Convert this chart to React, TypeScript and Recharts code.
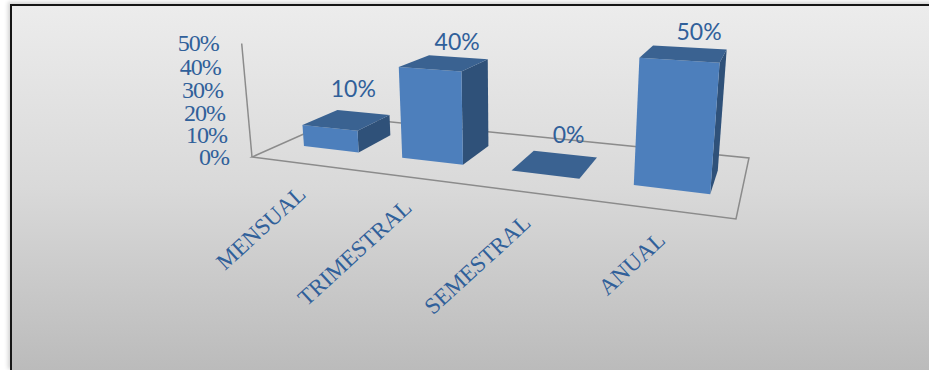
import { BarChart, Bar, XAxis, YAxis, LabelList, Customized } from 'recharts';

const categories = ['MENSUAL', 'TRIMESTRAL', 'SEMESTRAL', 'ANUAL'];
const shares = [10, 40, 0, 50];
const shareTicks = [0, 10, 20, 30, 40, 50];
const SHARE_MAX = 50;

const chartData = categories.map((name, i) => ({ name, value: shares[i] }));

const CHART_W = 929;
const CHART_H = 370;
const AXIS_W = 40;
const AXIS_H = 40;
const PLOT_W = CHART_W - AXIS_W;
const PLOT_H = CHART_H - AXIS_H;

const SERIF = '"Liberation Serif", serif';
const SANS = 'Lato, sans-serif';
const TEXT_BLUE = '#30609a';
const EDGE_GREY = '#8b8b8b';

// bars sit in the middle of the floor, front to back
const DEPTH_FRONT = 0.3;
const DEPTH_BACK = 0.7;

// per-bar nudge for the value labels, px
const labelNudgeX = [-1, 3, 1, 0];
const labelNudgeY = [-3, 2, 0, 0];

// perspective used for the fake 3D: floor homography plus a vertical vanishing point
const FLOOR = { a: 327.6, b: 157, c: 252, d: 15.46, e: -17.07, f: 157, g: -0.2125, h: 0.196 };
const VANISH = { x: 510, y: 3000, k: -0.0384 };

// u: 0..1 along the category axis, v: 0..1 into the floor, t: 0..1 up the value axis
function project(u: number, v: number, t: number) {
  const w = FLOOR.g * u + FLOOR.h * v + 1 + t * VANISH.k;
  const x = FLOOR.a * u + FLOOR.b * v + FLOOR.c + t * VANISH.k * VANISH.x;
  const y = FLOOR.d * u + FLOOR.e * v + FLOOR.f + t * VANISH.k * VANISH.y;
  return { x: x / w, y: y / w };
}

const toU = (x: number) => (x - AXIS_W) / PLOT_W;
const toT = (y: number) => (PLOT_H - y) / PLOT_H;

function points(corners: Array<[number, number, number]>) {
  return corners
    .map(([u, v, t]) => {
      const p = project(u, v, t);
      return `${p.x},${p.y}`;
    })
    .join(' ');
}

function Box3D(props: any) {
  const { x, y, width } = props;
  const u0 = toU(x);
  const u1 = toU(x + width);
  const t = toT(y);
  const f = DEPTH_FRONT;
  const b = DEPTH_BACK;
  return (
    <g>
      <polygon fill="#2f5179" points={points([[u1, f, 0], [u1, b, 0], [u1, b, t], [u1, f, t]])} />
      <polygon fill="#4d7fbc" points={points([[u0, f, 0], [u1, f, 0], [u1, f, t], [u0, f, t]])} />
      <polygon fill="#3a6291" points={points([[u0, f, t], [u1, f, t], [u1, b, t], [u0, b, t]])} />
    </g>
  );
}

function Floor() {
  const wallTop = project(0, 0, 1);
  const origin = project(0, 0, 0);
  return (
    <g fill="none" stroke={EDGE_GREY} strokeWidth={1.5}>
      <polygon points={points([[0, 0, 0], [1, 0, 0], [1, 1, 0], [0, 1, 0]])} />
      <line x1={origin.x} y1={origin.y} x2={wallTop.x} y2={wallTop.y} />
    </g>
  );
}

function ShareTick({ payload }: any) {
  const p = project(0, 0, payload.value / SHARE_MAX);
  return (
    <text x={p.x - 23} y={p.y} textAnchor="end" dominantBaseline="central" fontFamily={SERIF} fontSize={24} letterSpacing={-1} fill={TEXT_BLUE}>
      {payload.value}%
    </text>
  );
}

function CategoryTick({ x, payload }: any) {
  const p = project(toU(x), 0, 0);
  const tx = p.x + 4.5;
  const ty = p.y + 32.5;
  return (
    <text x={tx} y={ty} textAnchor="end" transform={`rotate(-42.5 ${tx} ${ty})`} fontFamily={SERIF} fontSize={23} fill={TEXT_BLUE}>
      {payload.value}
    </text>
  );
}

function ValueLabel(props: any) {
  const box = props.viewBox ?? props;
  const i = props.index ?? 0;
  const u = toU(box.x + box.width / 2);
  const t = toT(box.y);
  const p = project(u, 0.5, t);
  return (
    <text
      x={p.x + 6 + 10 * u + labelNudgeX[i]}
      y={p.y - 30 + 7 * t + labelNudgeY[i]}
      textAnchor="middle"
      dominantBaseline="central"
      fontFamily={SANS}
      fontSize={23}
      fill={TEXT_BLUE}
    >
      {props.value}%
    </text>
  );
}

export default function App() {
  return (
    <div style={{ position: 'absolute', left: 0, top: 0, width: CHART_W, height: CHART_H, overflow: 'hidden', background: '#fff' }}>
      <div
        style={{
          position: 'absolute',
          left: 10,
          top: 4,
          width: 930,
          height: 364,
          borderTop: '2px solid #161616',
          borderLeft: '2px solid #161616',
          borderBottom: '1px solid #161616',
          boxShadow: '-2px -2px 4px rgba(0,0,0,0.18)',
          background: 'linear-gradient(#ececec 0%, #d9d9d9 50%, #bbbbbb 100%)',
        }}
      />
      <div style={{ position: 'absolute', left: 0, top: 0 }}>
        <BarChart width={CHART_W} height={CHART_H} data={chartData} margin={{ top: 0, right: 0, bottom: 0, left: 0 }} barCategoryGap="21.5%">
          <Customized component={Floor} />
          <XAxis dataKey="name" height={AXIS_H} axisLine={false} tickLine={false} interval={0} padding={{ left: 4, right: 0 }} tick={CategoryTick} />
          <YAxis width={AXIS_W} domain={[0, SHARE_MAX]} ticks={shareTicks} axisLine={false} tickLine={false} tick={ShareTick} />
          <Bar dataKey="value" shape={Box3D} isAnimationActive={false}>
            <LabelList dataKey="value" content={ValueLabel} />
          </Bar>
        </BarChart>
      </div>
    </div>
  );
}
